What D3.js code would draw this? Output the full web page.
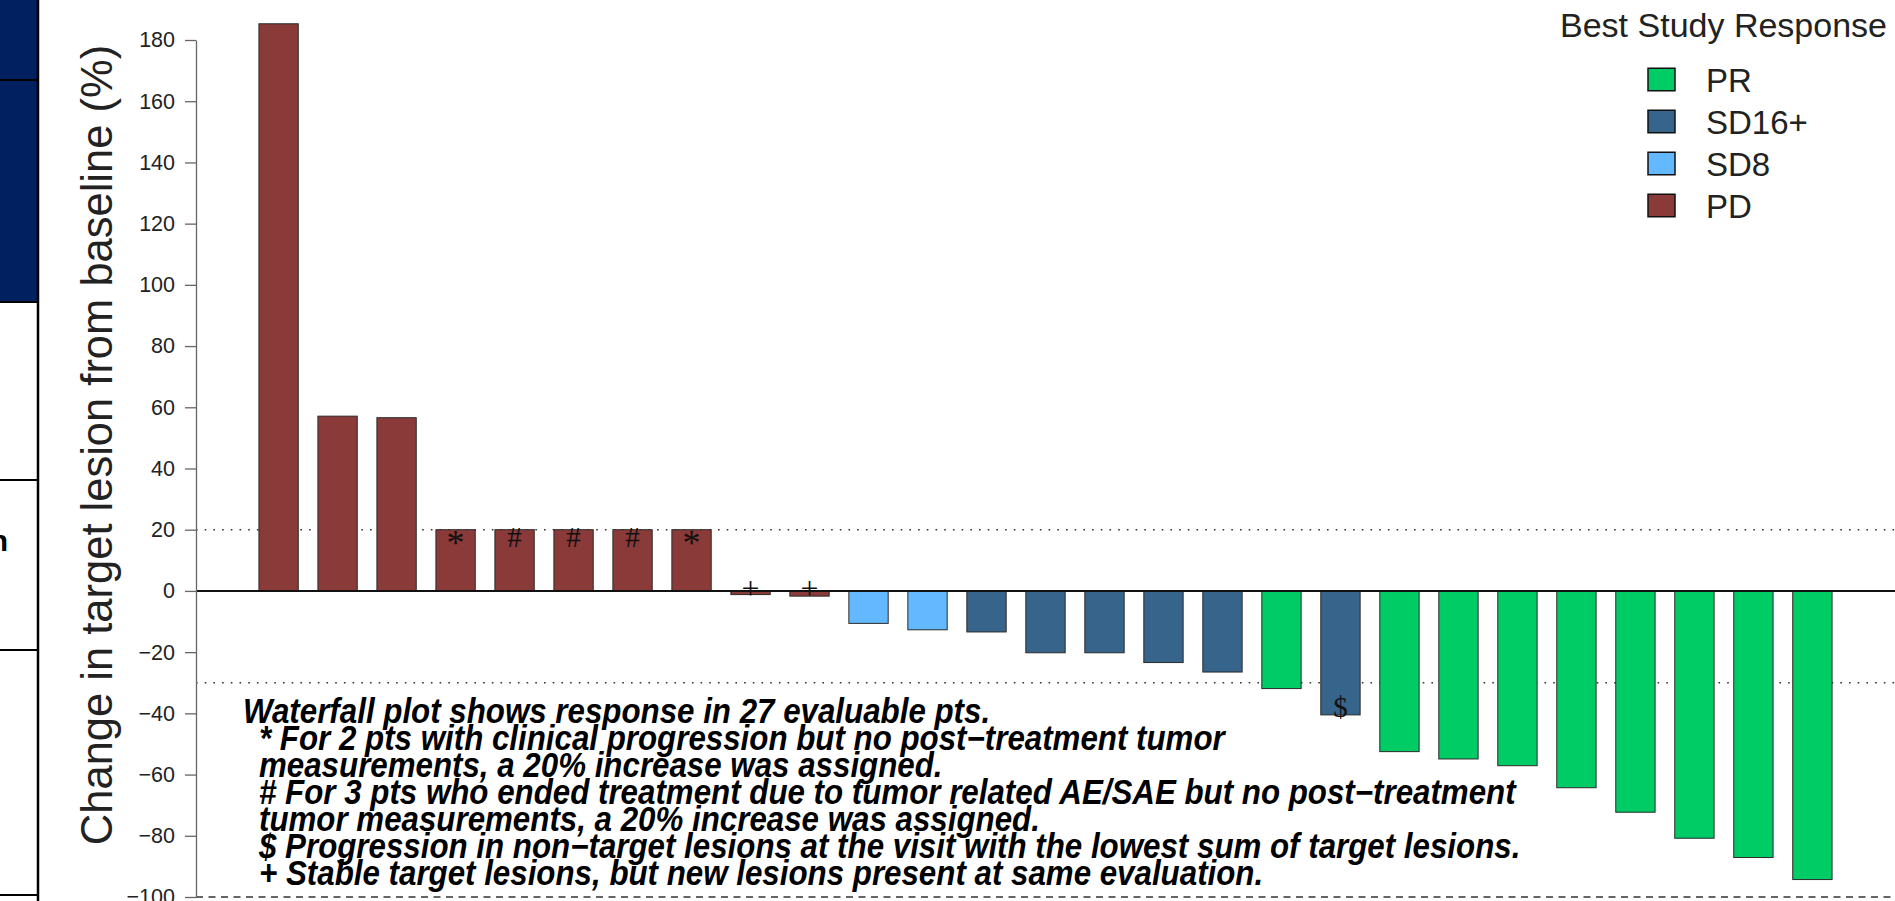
<!DOCTYPE html>
<html>
<head>
<meta charset="utf-8">
<script src="https://cdn.jsdelivr.net/npm/d3@7"></script>
<style>
  html, body { margin: 0; padding: 0; background: #fff; }
  svg { display: block; }
</style>
</head>
<body>
<svg id="chart" width="1895" height="901"></svg>
<script>
// ---------------- DATA ----------------
const patients = ["P01","P02","P03","P04","P05","P06","P07","P08","P09","P10","P11","P12","P13","P14",
                  "P15","P16","P17","P18","P19","P20","P21","P22","P23","P24","P25","P26","P27"];
const changePct = [185.3, 57.1, 56.6, 20, 20, 20, 20, 20, -1.2, -1.7, -10.6, -12.7, -13.4, -20.2,
                   -20.2, -23.4, -26.5, -31.9, -40.5, -52.5, -54.9, -57.1, -64.3, -72.3, -80.8, -87.1, -94.3];
const bestResponse = ["PD","PD","PD","PD","PD","PD","PD","PD","PD","PD","SD8","SD8","SD16+","SD16+",
                      "SD16+","SD16+","SD16+","PR","SD16+","PR","PR","PR","PR","PR","PR","PR","PR"];
const footMarks = ["","","","*","#","#","#","*","+","+","","","","","","","","","$","","","","","","","",""];
const legendCats = ["PR","SD16+","SD8","PD"];
const legendColors = ["#00CC66","#36648B","#63B8FF","#8B3A3A"];
const yTicks = [-100,-80,-60,-40,-20,0,20,40,60,80,100,120,140,160,180];
const dottedRefs = [20, -30];
const dashedRefs = [-100];
const yTitle = "Change in target lesion from baseline (%)";
const legendTitle = "Best Study Response";
const notes = [
  "Waterfall plot shows response in 27 evaluable pts.",
  "* For 2 pts with clinical progression but no post\u2212treatment tumor",
  "measurements, a 20% increase was assigned.",
  "# For 3 pts who ended treatment due to tumor related AE/SAE but no post\u2212treatment",
  "tumor measurements, a 20% increase was assigned.",
  "$ Progression in non\u2212target lesions at the visit with the lowest sum of target lesions.",
  "+ Stable target lesions, but new lesions present at same evaluation."
];

// ---------------- LAYOUT ----------------
const svg = d3.select("#chart");
const W = 1895, H = 901;
const plotL = 196, plotR = 1895;

const color = d3.scaleOrdinal().domain(legendCats).range(legendColors);
const x = d3.scaleBand().domain(patients).range([plotL, plotR]).paddingInner(1/3).paddingOuter(1.0667);
const y = d3.scaleLinear().domain([-100, 180]).range([897, 40]);

// left slide panel remnant
const panel = svg.append("g");
panel.append("rect").attr("x",0).attr("y",0).attr("width",38).attr("height",302).attr("fill","#002060");
panel.append("line").attr("x1",0).attr("x2",38).attr("y1",80).attr("y2",80).attr("stroke","#000").attr("stroke-width",2);
[302, 480, 650, 895].forEach(v => {
  panel.append("line").attr("x1",0).attr("x2",38).attr("y1",v).attr("y2",v).attr("stroke","#000").attr("stroke-width",2);
});
panel.append("line").attr("x1",38).attr("x2",38).attr("y1",0).attr("y2",H).attr("stroke","#000").attr("stroke-width",2.5);
panel.append("text").attr("x",8).attr("y",551).attr("text-anchor","end")
  .attr("font-family","Liberation Sans, Arial, sans-serif").attr("font-weight","bold").attr("font-size",30).text("n");

// reference lines
const refs = svg.append("g");
dottedRefs.forEach(v => {
  refs.append("line").attr("x1",plotL).attr("x2",plotR).attr("y1",y(v)).attr("y2",y(v))
    .attr("stroke","#333").attr("stroke-width",1.6).attr("stroke-dasharray","1.6,7.1");
});
dashedRefs.forEach(v => {
  refs.append("line").attr("x1",plotL).attr("x2",plotR).attr("y1",y(v)).attr("y2",y(v))
    .attr("stroke","#333").attr("stroke-width",1.5).attr("stroke-dasharray","7,5.5");
});

// bars
const data = patients.map((p,i) => ({p, v: changePct[i], r: bestResponse[i], m: footMarks[i]}));
svg.append("g").selectAll("rect").data(data).join("rect")
  .attr("x", d => x(d.p))
  .attr("width", x.bandwidth())
  .attr("y", d => Math.min(y(d.v), y(0)))
  .attr("height", d => Math.abs(y(d.v) - y(0)))
  .attr("fill", d => color(d.r))
  .attr("stroke", "#2a2a2a")
  .attr("stroke-width", 1);

// zero line
svg.append("line").attr("x1",plotL).attr("x2",plotR).attr("y1",y(0)).attr("y2",y(0))
  .attr("stroke","#111").attr("stroke-width",2);

// footnote marks on bars
svg.append("g").selectAll("text").data(data.filter(d => d.m)).join("text")
  .attr("x", d => x(d.p) + x.bandwidth()/2)
  .attr("y", d => {
    if (d.m === "+") return y(0) + 8;
    if (d.m === "$") return y(d.v) + 2;
    if (d.m === "*") return y(d.v) + 25;
    return y(d.v) + 17;
  })
  .attr("text-anchor","middle")
  .attr("font-family","Liberation Serif, Times New Roman, serif")
  .attr("font-size", d => d.m === "*" ? 36 : (d.m === "+" ? 32 : 29))
  .attr("fill","#111")
  .text(d => d.m);

// y axis
const yAxis = d3.axisLeft(y).tickValues(yTicks).tickSize(11).tickSizeOuter(0).tickPadding(10);
const ga = svg.append("g").attr("transform",`translate(${plotL},0)`).call(yAxis);
ga.select(".domain").attr("stroke","#666").attr("stroke-width",1.3);
ga.selectAll(".tick line").attr("stroke","#666").attr("stroke-width",1.3);
ga.selectAll(".tick text").attr("font-family","Liberation Sans, Arial, sans-serif")
  .attr("font-size",21.5).attr("fill","#222");

// y title
svg.append("text").attr("transform","translate(112,445) rotate(-90)")
  .attr("text-anchor","middle").attr("font-family","Liberation Sans, Arial, sans-serif")
  .attr("font-size",43.5).attr("fill","#222").text(yTitle);

// legend
const lg = svg.append("g");
lg.append("text").attr("x",1887).attr("y",37).attr("text-anchor","end")
  .attr("font-family","Liberation Sans, Arial, sans-serif").attr("font-size",34).attr("fill","#222")
  .text(legendTitle);
legendCats.forEach((c,i) => {
  const cy = 79.5 + i*42;
  lg.append("rect").attr("x",1648).attr("y",cy-11.25).attr("width",27).attr("height",22.5)
    .attr("fill",color(c)).attr("stroke","#111").attr("stroke-width",1.5);
  lg.append("text").attr("x",1706).attr("y",cy+12).attr("font-family","Liberation Sans, Arial, sans-serif")
    .attr("font-size",33).attr("fill","#222").text(c);
});

// footnotes
const ng = svg.append("g").attr("font-family","Liberation Sans, Arial, sans-serif")
  .attr("font-weight","bold").attr("font-style","italic").attr("font-size",31.3).attr("fill","#000");
notes.forEach((t,i) => {
  ng.append("text")
    .attr("transform", `translate(${i === 0 ? 243 : 259},${723 + i*27}) scale(1,1.1)`)
    .text(t);
});
</script>
</body>
</html>
